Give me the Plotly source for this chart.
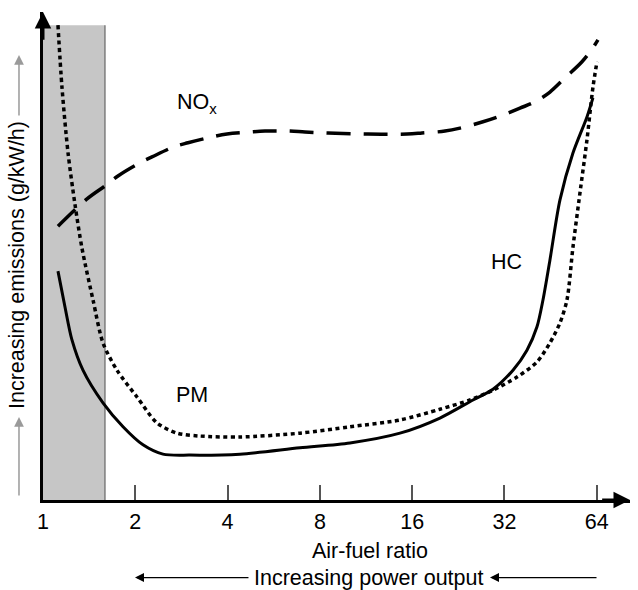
import plotly.graph_objects as go

# ---- data ----
x_ticks = [1, 2, 4, 8, 16, 32, 64]
x_tick_labels = ["1", "2", "4", "8", "16", "32", "64"]

nox_afr = [1.119, 1.392, 1.605, 1.756, 2.072, 2.267, 2.655, 2.971, 3.558, 3.982,
           4.733, 5.297, 6.391, 7.153, 8.502, 11.48, 15.39, 17.22, 20.47, 22.91,
           27.23, 30.48, 35.95, 40.23, 45.03, 50.40, 57.27, 61.74, 64.58]
nox_em = [56.1, 61.7, 64.5, 66.4, 69.1, 70.3, 72.3, 73.2, 74.4, 75.0,
          75.4, 75.6, 75.6, 75.4, 75.2, 75.0, 75.0, 75.2, 75.6, 76.2,
          77.5, 78.5, 80.3, 81.6, 83.6, 86.5, 89.8, 92.4, 94.3]

pm_afr = [1.119, 1.153, 1.207, 1.272, 1.340, 1.456, 1.569, 1.743, 2.026, 2.354,
          2.735, 3.251, 4.390, 6.889, 10.03, 14.60, 19.71, 24.70, 29.35, 35.15,
          40.85, 45.03, 48.55, 51.17, 53.52, 56.41, 59.46, 62.20, 64.10]
pm_em = [97.3, 84.6, 71.1, 60.5, 51.6, 41.0, 32.2, 26.6, 21.1, 15.8,
         13.7, 13.1, 12.9, 13.7, 15.0, 16.4, 18.6, 20.5, 22.5, 25.2,
         28.3, 32.2, 36.3, 41.0, 51.8, 62.9, 73.8, 84.6, 89.8]

hc_afr = [1.119, 1.180, 1.243, 1.350, 1.569, 1.824, 2.119, 2.462, 3.016, 4.390,
          6.889, 10.03, 14.60, 19.71, 25.26, 29.35, 34.11, 37.89, 40.85, 42.73,
          45.03, 48.55, 53.52, 59.46, 62.20]
hc_em = [46.9, 39.5, 32.8, 26.6, 19.9, 15.0, 11.3, 9.4, 9.2, 9.4,
         10.7, 11.7, 13.7, 16.8, 20.5, 22.7, 26.6, 30.7, 35.5, 41.0,
         49.2, 61.5, 71.1, 78.5, 82.4]

shade_right = 0.1056   # right edge of shaded band (axis-domain fraction)
shade_top = 0.973

FONT = "Liberation Sans, Arial, Helvetica, sans-serif"
FS = 21.5

fig = go.Figure()

fig.add_trace(go.Scatter(x=nox_afr, y=nox_em, mode="lines", hoverinfo="skip",
                         line=dict(color="black", width=3.5, dash="24px,13px",
                                   shape="spline", smoothing=1.0)))
fig.add_trace(go.Scatter(x=pm_afr, y=pm_em, mode="lines", hoverinfo="skip",
                         line=dict(color="black", width=3.5, dash="4px,3.5px",
                                   shape="spline", smoothing=0.8)))
fig.add_trace(go.Scatter(x=hc_afr, y=hc_em, mode="lines", hoverinfo="skip",
                         line=dict(color="black", width=3,
                                   shape="spline", smoothing=0.8)))

# shaded band
fig.add_shape(type="rect", xref="x domain", yref="y domain",
              x0=0, x1=shade_right, y0=0, y1=shade_top,
              fillcolor="#c6c6c6", line=dict(width=0), layer="below")
fig.add_shape(type="line", xref="x domain", yref="y domain",
              x0=shade_right, x1=shade_right, y0=0, y1=shade_top,
              line=dict(color="#666666", width=1.2), layer="below")


def arrow(x, y, ax, ay, width, size, color="black", head=2):
    fig.add_annotation(xref="x domain", yref="y domain", axref="x domain",
                       ayref="y domain", x=x, y=y, ax=ax, ay=ay, text="",
                       showarrow=True, arrowhead=head, arrowwidth=width,
                       arrowsize=size, arrowcolor=color, standoff=0,
                       startstandoff=0)


# axis arrows
arrow(1.0, 0, 0.95, 0, 3, 1.1)
arrow(0, 1.0, 0, 0.94, 3, 1.1)

# y-title side arrows (grey)
arrow(-0.0409, 0.170, -0.0409, 0.006, 1.5, 1.3, color="#9a9a9a")
arrow(-0.0409, 0.912, -0.0409, 0.785, 1.5, 1.3, color="#9a9a9a")

# bottom arrows
arrow(0.1567, -0.159, 0.3526, -0.159, 1.2, 1.5)
arrow(0.7615, -0.159, 0.9455, -0.159, 1.2, 1.5)

txt = dict(xref="x domain", yref="y domain", showarrow=False,
           xanchor="center", yanchor="middle",
           font=dict(family=FONT, size=FS, color="black"))
fig.add_annotation(x=0.262, y=0.812, text="NO<sub>x</sub>", **txt)
fig.add_annotation(x=0.254, y=0.215, text="PM", **txt)
fig.add_annotation(x=0.789, y=0.488, text="HC", **txt)
fig.add_annotation(x=0.557, y=-0.104, text="Air-fuel ratio", **txt)
fig.add_annotation(x=0.5554, y=-0.159, text="Increasing power output", **txt)
fig.add_annotation(x=-0.0443, y=0.4816, text="Increasing emissions (g/kW/h)",
                   textangle=-90, **txt)

fig.update_xaxes(type="log", range=[0, 1.9146], showline=True, linecolor="black",
                 linewidth=3, ticks="inside", ticklen=15, tickwidth=1.5,
                 tickcolor="#555555", tickvals=x_ticks, ticktext=x_tick_labels,
                 tickfont=dict(family=FONT, size=FS, color="black"),
                 showgrid=False, zeroline=False)
fig.update_yaxes(range=[0, 100], showline=True, linecolor="black", linewidth=3,
                 showticklabels=False, ticks="", showgrid=False, zeroline=False)

fig.update_layout(width=638, height=590, margin=dict(l=43, r=8, t=12, b=90),
                  plot_bgcolor="white", paper_bgcolor="white", showlegend=False,
                  font=dict(family=FONT, size=FS, color="black"))

fig.write_html("out.html", config={"displayModeBar": False},
               post_script="document.body.style.margin='0px';"
                           "document.body.style.overflow='hidden';")
